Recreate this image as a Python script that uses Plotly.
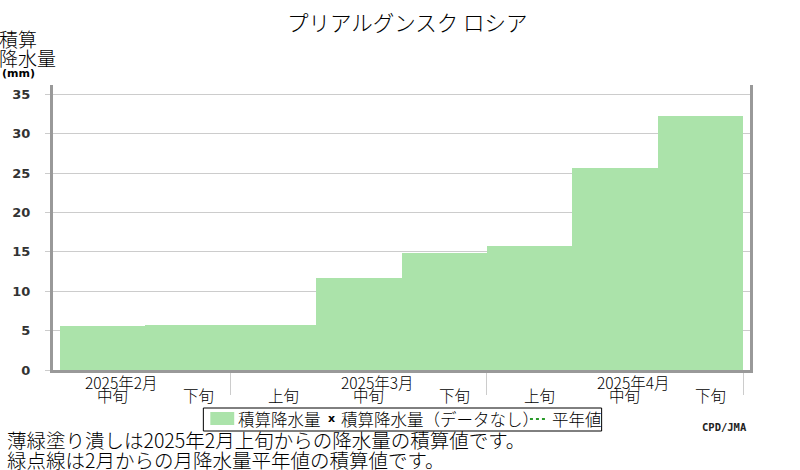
import plotly.graph_objects as go
import numpy as np

# ---- data ----
dekads = ["2月中旬", "2月下旬", "3月上旬", "3月中旬", "3月下旬", "4月上旬", "4月中旬", "4月下旬"]
dekad_labels = ["中旬", "下旬", "上旬", "中旬", "下旬", "上旬", "中旬", "下旬"]
month_labels = ["2025年2月", "2025年3月", "2025年4月"]
precip_accum = [5.6, 5.7, 5.7, 11.7, 14.9, 15.8, 25.7, 32.2]
y_ticks = [0, 5, 10, 15, 20, 25, 30, 35]

# dekad index: Feb 上旬 = 0, so plotted dekads start at 1
first_dekad = 1
xpos = np.arange(len(dekads)) + first_dekad + 0.5

W, H = 800, 470
L, R, T, B = 50, 50, 85, 100
PW, PH = W - L - R, H - T - B

def px(x):
    return (x - L) / PW

def py(y):
    return (T + PH - y) / PH

JP = "Noto Sans CJK JP"
GREEN = "#abe3aa"

fig = go.Figure()
fig.add_trace(go.Bar(
    x=xpos, y=precip_accum, width=1.0,
    marker=dict(color=GREEN, line=dict(width=0)),
    showlegend=False, hoverinfo="skip",
))

ann = []
# title
ann.append(dict(text="プリアルグンスク ロシア", x=px(406), y=py(22), xref="paper", yref="paper",
                xanchor="center", yanchor="middle", showarrow=False,
                font=dict(family=JP, size=21.5, color="#000", weight=300)))
# y axis title
ann.append(dict(text="積算", x=px(0), y=py(39), xref="paper", yref="paper", xshift=-6,
                xanchor="left", yanchor="middle", showarrow=False,
                font=dict(family=JP, size=19, color="#000", weight=300)))
ann.append(dict(text="降水量", x=px(0), y=py(58), xref="paper", yref="paper", xshift=-6,
                xanchor="left", yanchor="middle", showarrow=False,
                font=dict(family=JP, size=19, color="#000", weight=300)))
ann.append(dict(text="<b>(mm)</b>", x=px(0), y=py(73), xref="paper", yref="paper", xshift=-3,
                xanchor="left", yanchor="middle", showarrow=False,
                font=dict(family="DejaVu Sans", size=11, color="#000")))
# dekad labels
for xp, lab in zip(xpos, dekad_labels):
    ann.append(dict(text=lab, x=xp, y=py(395), xref="x", yref="paper", xshift=10,
                    xanchor="center", yanchor="middle", showarrow=False,
                    font=dict(family=JP, size=15.5, color="#000", weight=300)))
# month labels (at 中旬 of each month)
for i, lab in enumerate(month_labels):
    ann.append(dict(text=lab, x=1.5 + 3 * i, y=py(382), xref="x", yref="paper", xshift=18,
                    xanchor="center", yanchor="middle", showarrow=False,
                    font=dict(family=JP, size=15.5, color="#000", weight=300)))
# legend
leg_font = dict(family=JP, size=16.5, color="#000", weight=300)
ann.append(dict(text="積算降水量", x=px(234), y=py(419), xref="paper", yref="paper",
                xanchor="left", yanchor="middle", showarrow=False, font=leg_font))
ann.append(dict(text="<b>x</b>", x=px(330), y=py(418), xref="paper", yref="paper",
                xanchor="center", yanchor="middle", showarrow=False,
                font=dict(family="DejaVu Sans", size=11, color="#000")))
ann.append(dict(text="積算降水量（データなし）", x=px(337), y=py(419), xref="paper", yref="paper",
                xanchor="left", yanchor="middle", showarrow=False, font=leg_font))
ann.append(dict(text="平年値", x=px(549), y=py(419), xref="paper", yref="paper",
                xanchor="left", yanchor="middle", showarrow=False, font=leg_font))
# credit
ann.append(dict(text="<b>CPD/JMA</b>", x=px(749), y=py(427), xref="paper", yref="paper",
                xanchor="right", yanchor="middle", showarrow=False,
                font=dict(family="DejaVu Sans Mono", size=10.5, color="#222")))
# notes
note_font = dict(family=JP, size=19.5, color="#000", weight=300)
ann.append(dict(text="薄緑塗り潰しは2025年2月上旬からの降水量の積算値です。", x=px(2), y=py(440),
                xref="paper", yref="paper", xanchor="left", yanchor="middle", showarrow=False,
                font=note_font))
ann.append(dict(text="緑点線は2月からの月降水量平年値の積算値です。", x=px(2), y=py(459),
                xref="paper", yref="paper", xanchor="left", yanchor="middle", showarrow=False,
                font=note_font))

shapes = [
    dict(type="rect", xref="paper", yref="paper", x0=px(201), x1=px(601), y0=py(408), y1=py(431),
         line=dict(color="#000", width=1), fillcolor="rgba(0,0,0,0)"),
    dict(type="rect", xref="paper", yref="paper", x0=px(208), x1=px(232), y0=py(412), y1=py(425),
         line=dict(width=0), fillcolor=GREEN),
    dict(type="line", xref="paper", yref="paper", x0=px(529), x1=px(547), y0=py(419), y1=py(419),
         line=dict(color="#2a9a2a", width=2, dash="dot")),
]

fig.update_layout(
    width=W, height=H,
    margin=dict(l=L, r=R, t=T, b=B),
    paper_bgcolor="white", plot_bgcolor="white",
    bargap=0,
    showlegend=False,
    annotations=ann,
    shapes=shapes,
    xaxis=dict(
        range=[first_dekad - 7 / 85.75, first_dekad - 7 / 85.75 + PW / 85.75],
        showgrid=False, zeroline=False,
        tickmode="array", tickvals=[3, 6, 9], ticks="outside", ticklen=22,
        tickcolor="#cccccc", tickwidth=1, showticklabels=False,
        showline=True, linecolor="#999999", linewidth=3,
    ),
    yaxis=dict(
        range=[0, 36.2],
        tickmode="array", tickvals=y_ticks, ticktext=[str(v) for v in y_ticks],
        showgrid=True, gridcolor="#cccccc", gridwidth=1, zeroline=False,
        ticks="outside", ticklen=5, tickcolor="#cccccc",
        ticklabelstandoff=12,
        tickfont=dict(family="DejaVu Sans", size=13, color="#333", weight="bold"),
        showline=True, linecolor="#999999", linewidth=3, mirror=True,
    ),
)

fig.write_html(
    "out.html",
    config={"displayModeBar": False},
    post_script="document.body.style.margin='0';document.body.style.padding='0';document.body.style.overflow='hidden';",
)
